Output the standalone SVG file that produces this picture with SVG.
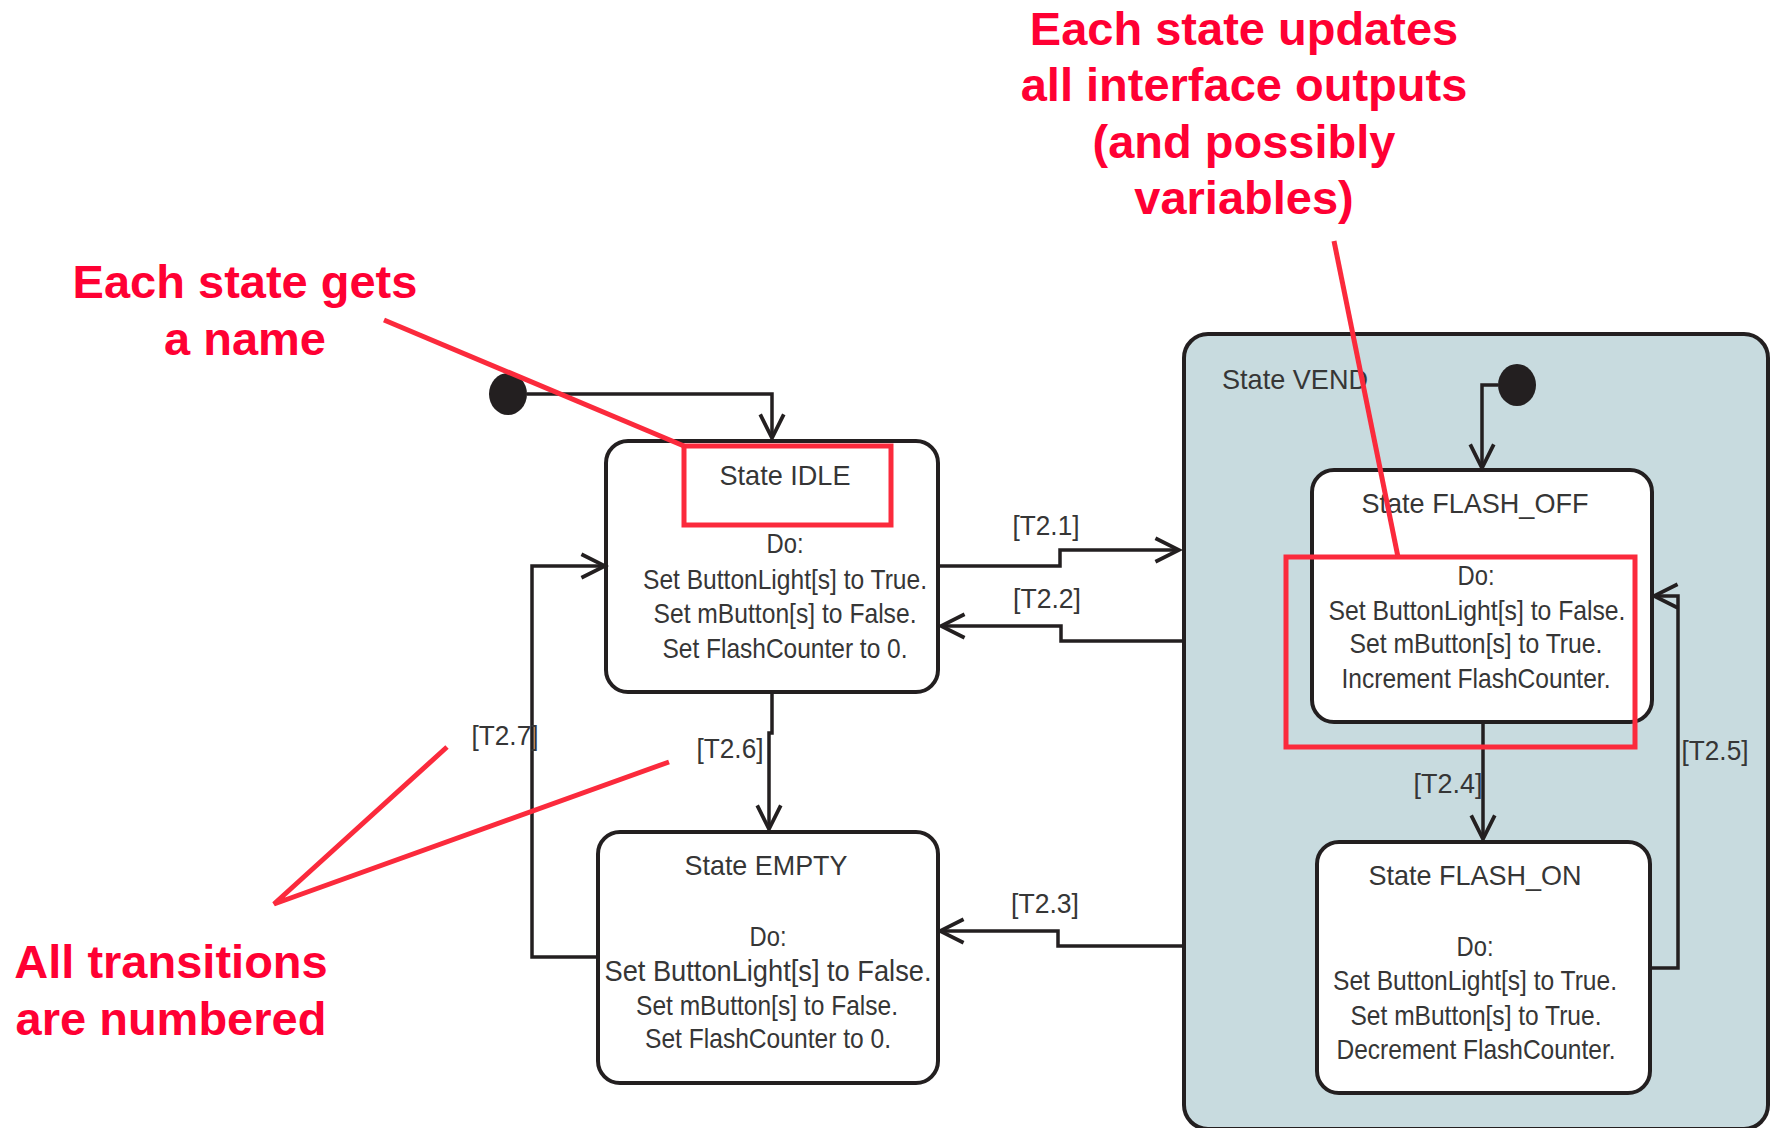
<svg xmlns="http://www.w3.org/2000/svg" width="1773" height="1128" viewBox="0 0 1773 1128">
<style>
.box{fill:#ffffff;stroke:#231f20;stroke-width:4}
.vend{fill:#c8dbdf;stroke:#231f20;stroke-width:4}
.t{font-family:"Liberation Sans",Arial,sans-serif;font-size:28.5px;fill:#363636;text-anchor:middle}
.lbl{font-family:"Liberation Sans",Arial,sans-serif;font-size:27.5px;fill:#363636;text-anchor:middle}
.conn{fill:none;stroke:#231f20;stroke-width:3.5;marker-end:url(#arr)}
.dot{fill:#231f20}
.note{font-family:"Liberation Sans",Arial,sans-serif;font-size:47px;font-weight:bold;fill:#ff0033;text-anchor:middle}
.red{fill:none;stroke:#fb2a3c;stroke-width:5}
</style>
<defs>
<marker id="arr" markerUnits="userSpaceOnUse" markerWidth="30" markerHeight="30" viewBox="-24 -14 28 28" refX="0" refY="0" orient="auto">
<path d="M -22 -11 L 0 0 L -22 11" fill="none" stroke="#231f20" stroke-width="3.5"/>
</marker>
</defs>
<rect width="1773" height="1128" fill="#ffffff"/>

<g id="VEND">
<rect class="vend" x="1184" y="334" width="584" height="795" rx="24"/>
<text class="t" x="1295" y="389" textLength="146" lengthAdjust="spacingAndGlyphs">State VEND</text>
</g>

<g id="IDLE">
<rect class="box" x="606" y="441" width="332" height="251" rx="22"/>
<text class="t" x="785" y="485" textLength="131" lengthAdjust="spacingAndGlyphs">State IDLE</text>
<text class="t" x="785" y="553" textLength="37" lengthAdjust="spacingAndGlyphs">Do:</text>
<text class="t" x="785" y="589" textLength="284" lengthAdjust="spacingAndGlyphs">Set ButtonLight[s] to True.</text>
<text class="t" x="785" y="623" textLength="263" lengthAdjust="spacingAndGlyphs">Set mButton[s] to False.</text>
<text class="t" x="785" y="658" textLength="245" lengthAdjust="spacingAndGlyphs">Set FlashCounter to 0.</text>
</g>

<g id="EMPTY">
<rect class="box" x="598" y="832" width="340" height="251" rx="22"/>
<text class="t" x="766" y="875" textLength="163" lengthAdjust="spacingAndGlyphs">State EMPTY</text>
<text class="t" x="768" y="946" textLength="37" lengthAdjust="spacingAndGlyphs">Do:</text>
<text class="t" x="768" y="981" style="font-size:30px" textLength="327" lengthAdjust="spacingAndGlyphs">Set ButtonLight[s] to False.</text>
<text class="t" x="767" y="1015" textLength="262" lengthAdjust="spacingAndGlyphs">Set mButton[s] to False.</text>
<text class="t" x="768" y="1048" textLength="246" lengthAdjust="spacingAndGlyphs">Set FlashCounter to 0.</text>
</g>

<g id="FLASH_OFF">
<rect class="box" x="1312" y="470" width="340" height="252" rx="22"/>
<text class="t" x="1475" y="513" textLength="227" lengthAdjust="spacingAndGlyphs">State FLASH_OFF</text>
<text class="t" x="1476" y="585" textLength="37" lengthAdjust="spacingAndGlyphs">Do:</text>
<text class="t" x="1477" y="620" textLength="297" lengthAdjust="spacingAndGlyphs">Set ButtonLight[s] to False.</text>
<text class="t" x="1476" y="653" textLength="253" lengthAdjust="spacingAndGlyphs">Set mButton[s] to True.</text>
<text class="t" x="1476" y="688" textLength="269" lengthAdjust="spacingAndGlyphs">Increment FlashCounter.</text>
</g>

<g id="FLASH_ON">
<rect class="box" x="1317" y="842" width="333" height="251" rx="22"/>
<text class="t" x="1475" y="885" textLength="213" lengthAdjust="spacingAndGlyphs">State FLASH_ON</text>
<text class="t" x="1475" y="956" textLength="37" lengthAdjust="spacingAndGlyphs">Do:</text>
<text class="t" x="1475" y="990" textLength="284" lengthAdjust="spacingAndGlyphs">Set ButtonLight[s] to True.</text>
<text class="t" x="1476" y="1025" textLength="251" lengthAdjust="spacingAndGlyphs">Set mButton[s] to True.</text>
<text class="t" x="1476" y="1059" textLength="279" lengthAdjust="spacingAndGlyphs">Decrement FlashCounter.</text>
</g>

<g id="init_top">
<ellipse class="dot" cx="508" cy="394" rx="19" ry="21"/>
</g>
<g id="init_vend">
<ellipse class="dot" cx="1517" cy="385" rx="19" ry="21"/>
</g>

<g id="connectors">
<path class="conn" d="M 527 394 H 772 V 438"/>
<path class="conn" d="M 1498 385 H 1482 V 468"/>
<path class="conn" d="M 938 566 H 1060 V 550 H 1179"/>
<path class="conn" d="M 1184 641 H 1061 V 626 H 941"/>
<path class="conn" d="M 1184 946 H 1058 V 931 H 940"/>
<path class="conn" d="M 1483 722 V 839"/>
<path class="conn" d="M 1650 968 H 1678 V 596 H 1654"/>
<path class="conn" d="M 772 692 V 733 H 769 V 829"/>
<path class="conn" d="M 598 957 H 532 V 566 H 605"/>
<text class="lbl" x="1046" y="535" textLength="67" lengthAdjust="spacingAndGlyphs">[T2.1]</text>
<text class="lbl" x="1047" y="608" textLength="68" lengthAdjust="spacingAndGlyphs">[T2.2]</text>
<text class="lbl" x="1045" y="913" textLength="68" lengthAdjust="spacingAndGlyphs">[T2.3]</text>
<text class="lbl" x="1448" y="793" textLength="69" lengthAdjust="spacingAndGlyphs">[T2.4]</text>
<text class="lbl" x="1715" y="760" textLength="67" lengthAdjust="spacingAndGlyphs">[T2.5]</text>
<text class="lbl" x="730" y="758" textLength="67" lengthAdjust="spacingAndGlyphs">[T2.6]</text>
<text class="lbl" x="505" y="745" textLength="67" lengthAdjust="spacingAndGlyphs">[T2.7]</text>
</g>

<g id="annotations">
<rect class="red" x="684" y="446" width="207" height="79"/>
<rect class="red" x="1286" y="557" width="349" height="190"/>
<line class="red" x1="384" y1="320" x2="684" y2="446"/>
<line class="red" x1="1334" y1="241" x2="1398" y2="557"/>
<polyline class="red" points="447,747 274,904 669,762"/>
<text class="note" x="1244" y="45">Each state updates</text>
<text class="note" x="1244" y="101">all interface outputs</text>
<text class="note" x="1244" y="158">(and possibly</text>
<text class="note" x="1244" y="214">variables)</text>
<text class="note" x="245" y="298">Each state gets</text>
<text class="note" x="245" y="355">a name</text>
<text class="note" x="171" y="978">All transitions</text>
<text class="note" x="171" y="1035">are numbered</text>
</g>
</svg>
